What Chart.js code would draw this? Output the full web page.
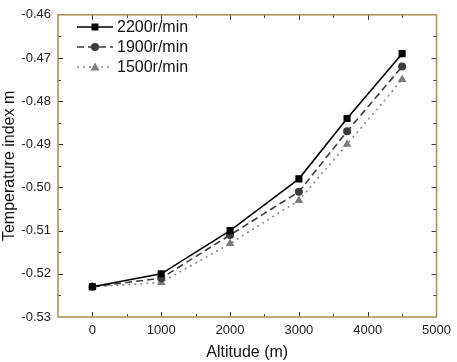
<!DOCTYPE html>
<html>
<head>
<meta charset="utf-8">
<script src="https://cdn.jsdelivr.net/npm/chart.js@4/dist/chart.umd.min.js"></script>
<style>
    html, body { margin: 0; padding: 0; background: #ffffff; }
    #wrap { width: 457px; height: 362px; }
</style>
</head>
<body>
<div id="wrap"><canvas id="tempChart"></canvas></div>
<script>
const altitudes = [0, 1000, 2000, 3000, 3700, 4500];
const speed2200 = [-0.523, -0.520, -0.510, -0.498, -0.484, -0.469];
const speed1900 = [-0.523, -0.521, -0.511, -0.501, -0.487, -0.472];
const speed1500 = [-0.523, -0.522, -0.513, -0.503, -0.490, -0.475];
const seriesLabels = ["2200r/min", "1900r/min", "1500r/min"];

const xTicks = [0, 1000, 2000, 3000, 4000, 5000];
const yTicks = [-0.53, -0.52, -0.51, -0.50, -0.49, -0.48, -0.47, -0.46];

const FONT = "'Liberation Sans', Arial, sans-serif";
const AXIS_COLOR = "#a88f52";
const TICK_COLOR = "#3a3a3a";

function toPoints(values) {
    return altitudes.map((x, i) => ({ x: x, y: values[i] }));
}

// frame, inward ticks on all four sides and the legend
const framePlugin = {
    id: "frame",
    afterDraw(chart) {
        const { ctx, chartArea: a, scales } = chart;
        const xs = scales.x;
        const ys = scales.y;

        ctx.save();
        ctx.strokeStyle = TICK_COLOR;
        ctx.lineWidth = 1;
        ctx.beginPath();
        for (let v = -500; v <= 5000; v += 500) {
            const px = Math.round(xs.getPixelForValue(v)) + 0.5;
            const len = v % 1000 === 0 ? 5 : 3;
            if (px <= a.left + 1 || px >= a.right - 1) continue;
            ctx.moveTo(px, a.bottom);
            ctx.lineTo(px, a.bottom - len);
            ctx.moveTo(px, a.top);
            ctx.lineTo(px, a.top + len);
        }
        for (let k = 0; k <= 14; k++) {
            const v = -0.53 + k * 0.005;
            const py = Math.round(ys.getPixelForValue(v)) + 0.5;
            const len = k % 2 === 0 ? 5 : 3;
            if (py <= a.top + 1 || py >= a.bottom - 1) continue;
            ctx.moveTo(a.left, py);
            ctx.lineTo(a.left + len, py);
            ctx.moveTo(a.right, py);
            ctx.lineTo(a.right - len, py);
        }
        ctx.stroke();

        ctx.strokeStyle = AXIS_COLOR;
        ctx.lineWidth = 1.5;
        ctx.strokeRect(a.left, a.top, a.right - a.left, a.bottom - a.top);

        // legend
        chart.data.datasets.forEach((ds, i) => {
            const y = 27 + i * 20;
            ctx.strokeStyle = ds.borderColor;
            ctx.lineWidth = ds.borderWidth;
            ctx.setLineDash(ds.borderDash || []);
            ctx.beginPath();
            ctx.moveTo(77, y);
            ctx.lineTo(113, y);
            ctx.stroke();
            ctx.setLineDash([]);

            ctx.fillStyle = ds.pointBackgroundColor;
            ctx.beginPath();
            if (ds.pointStyle === "rect") {
                ctx.rect(95 - 3.5, y - 3.5, 7, 7);
            } else if (ds.pointStyle === "circle") {
                ctx.arc(95, y, 4, 0, Math.PI * 2);
            } else {
                ctx.moveTo(95, y - 4.5);
                ctx.lineTo(99.5, y + 3.5);
                ctx.lineTo(90.5, y + 3.5);
                ctx.closePath();
            }
            ctx.fill();

            ctx.fillStyle = "#111111";
            ctx.font = "16px " + FONT;
            ctx.textBaseline = "middle";
            ctx.fillText(ds.label, 117, y + 1);
        });
        ctx.restore();
    },
};

new Chart(document.getElementById("tempChart"), {
    type: "line",

    data: {
        datasets: [
            {
                label: seriesLabels[0],
                data: toPoints(speed2200),
                borderColor: "#000000",
                borderWidth: 1.6,
                pointStyle: "rect",
                pointRadius: 5,
                pointBackgroundColor: "#000000",
                pointBorderColor: "#000000",
                pointBorderWidth: 0,
            },
            {
                label: seriesLabels[1],
                data: toPoints(speed1900),
                borderColor: "#3c3c3c",
                borderWidth: 1.6,
                borderDash: [7, 4],
                pointStyle: "circle",
                pointRadius: 4,
                pointBackgroundColor: "#3c3c3c",
                pointBorderColor: "#3c3c3c",
                pointBorderWidth: 0,
            },
            {
                label: seriesLabels[2],
                data: toPoints(speed1500),
                borderColor: "#8a8a8a",
                borderWidth: 1.6,
                borderDash: [2, 4],
                pointStyle: "triangle",
                pointRadius: 5,
                pointBackgroundColor: "#7c7c7c",
                pointBorderColor: "#7c7c7c",
                pointBorderWidth: 0,
            },
        ],
    },

    options: {
        responsive: true,
        maintainAspectRatio: false,
        animation: false,

        layout: {
            padding: { top: 7, right: 16, left: 0, bottom: 0 },
        },

        plugins: {
            legend: { display: false },
            tooltip: { enabled: false },
        },

        scales: {
            x: {
                type: "linear",
                min: -500,
                max: 5000,
                afterBuildTicks: (scale) => {
                    scale.ticks = xTicks.map((v) => ({ value: v }));
                },
                afterFit: (scale) => {
                    scale.height = 45;
                },
                grid: { display: false, drawTicks: false },
                border: { display: false },
                ticks: {
                    color: "#222222",
                    padding: 6,
                    maxRotation: 0,
                    font: { family: FONT, size: 13 },
                    callback: (v) => String(v),
                },
                title: {
                    display: true,
                    text: "Altitude (m)",
                    color: "#111111",
                    padding: { top: 0, bottom: 0 },
                    font: { family: FONT, size: 16 },
                },
            },

            y: {
                type: "linear",
                min: -0.53,
                max: -0.46,
                afterBuildTicks: (scale) => {
                    scale.ticks = yTicks.map((v) => ({ value: v }));
                },
                afterFit: (scale) => {
                    scale.width = 58;
                },
                grid: { display: false, drawTicks: false },
                border: { display: false },
                ticks: {
                    color: "#222222",
                    padding: 7,
                    font: { family: FONT, size: 13 },
                    callback: (v) => Number(v).toFixed(2),
                },
                title: {
                    display: true,
                    text: "Temperature index m",
                    color: "#111111",
                    padding: { top: 0, bottom: 0 },
                    font: { family: FONT, size: 16 },
                },
            },
        },
    },

    plugins: [framePlugin],
});
</script>
</body>
</html>
